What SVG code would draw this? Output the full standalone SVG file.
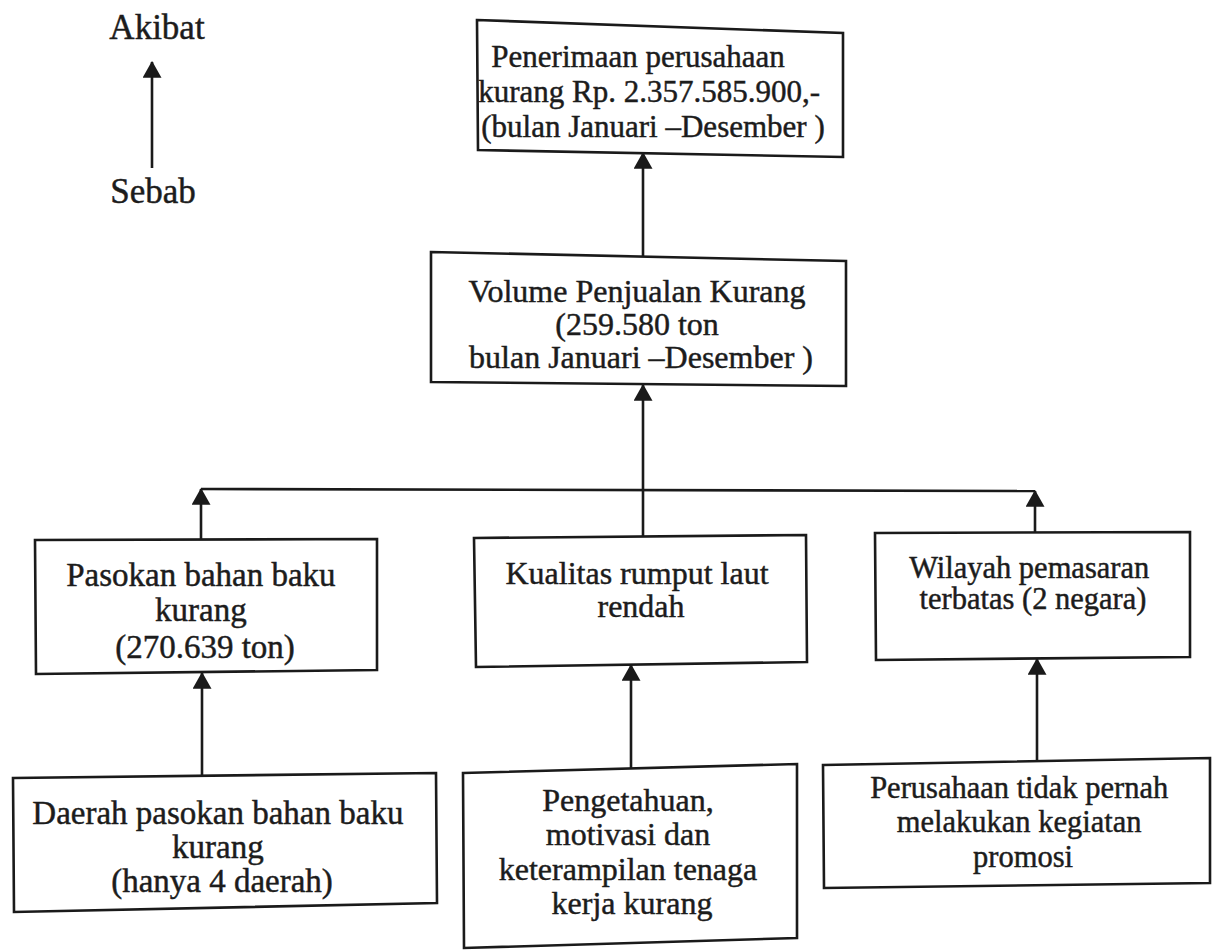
<svg xmlns="http://www.w3.org/2000/svg" width="1218" height="950" viewBox="0 0 1218 950">
  <defs>
    <style>
      .box { fill: #ffffff; stroke: #1a1a1a; stroke-width: 2.6; stroke-linejoin: miter; }
      .lbl { font-family: "Liberation Serif", "Times New Roman", serif; fill: #1c1c1c; stroke: #1c1c1c; stroke-width: 0.45; text-anchor: middle; }
      .wire { fill: none; stroke: #1a1a1a; stroke-width: 2.6; }
    </style>
    <marker id="arr" viewBox="0 0 16 18" refX="15" refY="9" markerWidth="17" markerHeight="19" markerUnits="userSpaceOnUse" orient="auto">
      <path d="M0,0 L16,9 L0,18 z" fill="#1a1a1a"/>
    </marker>
  </defs>
  <rect width="1218" height="950" fill="#ffffff"/>

  <!-- legend: cause points up to effect -->
  <g id="legend">
    <text class="lbl" x="157" y="39" font-size="35">Akibat</text>
    <line class="wire" x1="152" y1="168" x2="152" y2="62" marker-end="url(#arr)"/>
    <text class="lbl" x="153" y="203" font-size="35">Sebab</text>
  </g>

  <g id="connectors">
    <line class="wire" x1="643" y1="258" x2="643" y2="153" marker-end="url(#arr)"/>
    <line class="wire" x1="643" y1="490" x2="643" y2="385" marker-end="url(#arr)"/>
    <line class="wire" x1="201" y1="489" x2="1035" y2="491"/>
    <line class="wire" x1="643" y1="537" x2="643" y2="490"/>
    <line class="wire" x1="201" y1="541" x2="201" y2="489" marker-end="url(#arr)"/>
    <line class="wire" x1="1035" y1="533" x2="1035" y2="491" marker-end="url(#arr)"/>
    <line class="wire" x1="202" y1="776" x2="202" y2="673" marker-end="url(#arr)"/>
    <line class="wire" x1="631" y1="768" x2="631" y2="665" marker-end="url(#arr)"/>
    <line class="wire" x1="1037" y1="761" x2="1037" y2="659" marker-end="url(#arr)"/>
  </g>

  <g id="penerimaan">
    <polygon class="box" points="477,20 843,33 843,157 478,150"/>
    <text class="lbl" font-size="31">
      <tspan x="642" y="67">Penerimaan perusahaan</tspan>
      <tspan x="653" y="102">kurang Rp. 2.357.585.900,-</tspan>
      <tspan x="653" y="137">(bulan Januari –Desember )</tspan>
    </text>
  </g>

  <g id="volume">
    <polygon class="box" points="431,252 846,261 846,386 431,382"/>
    <text class="lbl" font-size="32">
      <tspan x="641" y="302">Volume Penjualan Kurang</tspan>
      <tspan x="641" y="335">(259.580 ton</tspan>
      <tspan x="641" y="368">bulan Januari –Desember )</tspan>
    </text>
  </g>

  <g id="pasokan">
    <polygon class="box" points="35,540 377,539 377,670 36,674"/>
    <text class="lbl" font-size="33">
      <tspan x="205" y="586">Pasokan bahan baku</tspan>
      <tspan x="205" y="621">kurang</tspan>
      <tspan x="205" y="658">(270.639 ton)</tspan>
    </text>
  </g>

  <g id="kualitas">
    <polygon class="box" points="474,538 806,535 807,662 476,667"/>
    <text class="lbl" font-size="32">
      <tspan x="641" y="584">Kualitas rumput laut</tspan>
      <tspan x="641" y="617">rendah</tspan>
    </text>
  </g>

  <g id="wilayah">
    <polygon class="box" points="875,533 1190,532 1190,657 876,660"/>
    <text class="lbl" font-size="30.5">
      <tspan x="1033" y="578">Wilayah pemasaran</tspan>
      <tspan x="1033" y="609">terbatas (2 negara)</tspan>
    </text>
  </g>

  <g id="daerah">
    <polygon class="box" points="13,778 436,773 437,903 14,912"/>
    <text class="lbl" font-size="33">
      <tspan x="222" y="824">Daerah pasokan bahan baku</tspan>
      <tspan x="222" y="858">kurang</tspan>
      <tspan x="222" y="892">(hanya 4 daerah)</tspan>
    </text>
  </g>

  <g id="pengetahuan">
    <polygon class="box" points="463,773 797,764 797,938 464,948"/>
    <text class="lbl" font-size="32">
      <tspan x="632" y="811">Pengetahuan,</tspan>
      <tspan x="632" y="845">motivasi dan</tspan>
      <tspan x="632" y="880">keterampilan tenaga</tspan>
      <tspan x="632" y="914">kerja kurang</tspan>
    </text>
  </g>

  <g id="promosi">
    <polygon class="box" points="823,765 1210,758 1210,883 824,888"/>
    <text class="lbl" font-size="30.5">
      <tspan x="1023" y="798">Perusahaan tidak pernah</tspan>
      <tspan x="1023" y="832">melakukan kegiatan</tspan>
      <tspan x="1023" y="867">promosi</tspan>
    </text>
  </g>
</svg>
